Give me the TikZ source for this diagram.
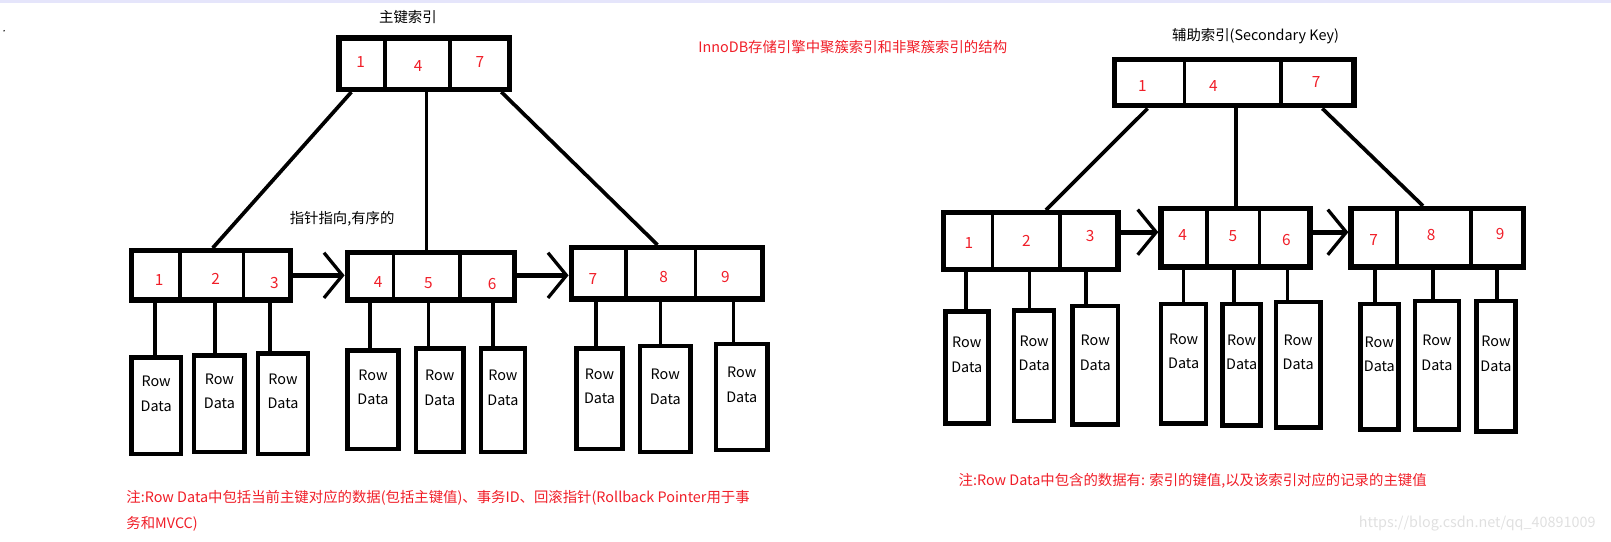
\documentclass[tikz,border=0pt]{standalone}
\usepackage{fontspec}
\setmainfont{Noto Sans CJK SC}
\usetikzlibrary{arrows.meta}
\definecolor{rd}{RGB}{240,30,40}
\newcommand{\bx}[5]{\node[box,minimum width={(#4-#2)*0.5pt},minimum height={(#5-#3)*0.5pt}] (#1) at ({(#2+#4)/2},{-(#3+#5)/2}) {};}
\newcommand{\rowd}[5]{\node[rowbox,minimum width={(#4-#2)*0.5pt},minimum height={(#5-#3)*0.5pt}] (#1) at ({(#2+#4)/2},{-(#3+#5)/2}) {};
\node[rowtxt] at ({(#2+#4)/2},{-(#3+#5)/2+12}) {Row\\[4pt]Data};}
\begin{document}
\begin{tikzpicture}[x=0.5pt,y=0.5pt,
  box/.style={draw,line width=2.6pt,inner sep=0pt},
  rowbox/.style={draw,line width=2.2pt,inner sep=0pt},
  rowtxt/.style={font=\fontsize{7}{8}\selectfont,align=center},
  num/.style={text=rd,font=\fontsize{7.5}{8}\selectfont},
  ln/.style={line width=1.8pt},
  arr/.style={line width=2.6pt,-{Straight Barb[length=9pt,width=22pt,line width=1.6pt]}},
  lbl/.style={font=\fontsize{7}{8}\selectfont}]
\useasboundingbox (0,0) rectangle (1568,-527.5);
\fill[black!15!blue!10] (0,0) rectangle (1568,-3);
\fill (4,-30) circle (0.8);
% left tree
\node[lbl] (t1) at (397,-17) {主键索引};
\node[lbl,text=rd] (t2) at (830,-46) {InnoDB存储引擎中聚簇索引和非聚簇索引的结构};
\bx{R}{330}{37}{496}{87}
\draw[ln] (375,-37)--(375,-87) (438,-37)--(438,-87);
\node[num] at (351,-60) {1};\node[num] at (407,-64) {4};\node[num] at (467,-60) {7};
\bx{A}{128}{244}{283}{292}
\bx{B}{338}{246}{501}{292}
\bx{C}{556}{241}{742}{291}
\draw[ln] (175,-244)--(175,-292) (237,-244)--(237,-292) (383,-246)--(383,-292) (448,-246)--(448,-292) (609,-241)--(609,-291) (677,-241)--(677,-291);
\node[num] at (155,-273){1};\node[num] at (210,-271){2};\node[num] at (267,-275){3};
\node[num] at (368,-274){4};\node[num] at (417,-276){5};\node[num] at (479,-276){6};
\node[num] at (577,-272){7};\node[num] at (646,-270){8};\node[num] at (706,-270){9};
\draw[ln] (R.south -| 342,0) -- (A.north -| 207,0);
\draw[ln] (R.south -| 415,0) -- (B.north -| 415,0);
\draw[ln] (R.south -| 488,0) -- (C.north -| 640,0);
\node[lbl] (t3) at (333,-213) {指针指向,有序的};
\draw[arr] (A.east |- 0,-268) -- (B.west |- 0,-268);
\draw[arr] (B.east |- 0,-268) -- (C.west |- 0,-268);
\rowd{a1}{128}{348}{176}{442}\rowd{a2}{189}{346}{238}{440}\rowd{a3}{251}{344}{300}{442}
\rowd{b1}{338}{341}{388}{437}\rowd{b2}{405}{339}{451}{440}\rowd{b3}{468}{339}{511}{440}
\rowd{c1}{561}{339}{606}{437}\rowd{c2}{623}{337}{672}{440}\rowd{c3}{697}{335}{747}{438}
\foreach \n/\x/\p in {a1/151/A,a2/209/A,a3/263/A,b1/360/B,b2/417/B,b3/480/B,c1/580/C,c2/643/C,c3/714/C}
  \draw[ln] (\p.south -| \x,0) -- (\n.north -| \x,0);
% right tree
\node[lbl] (t4) at (1222,-35) {辅助索引(Secondary Key)};
\bx{S}{1085}{58}{1318}{103}
\draw[ln] (1153,-58)--(1153,-103) (1247,-58)--(1247,-103);
\node[num] at (1112,-84){1};\node[num] at (1181,-84){4};\node[num] at (1281,-80){7};
\bx{D}{918}{207}{1088}{262}
\bx{E}{1130}{203}{1275}{260}
\bx{F}{1315}{203}{1483}{260}
\draw[ln] (966,-207)--(966,-262) (1032,-207)--(1032,-262) (1175,-203)--(1175,-260) (1226,-203)--(1226,-260) (1360,-203)--(1360,-260) (1432,-203)--(1432,-260);
\node[num] at (943,-237){1};\node[num] at (999,-234){2};\node[num] at (1061,-230){3};
\node[num] at (1151,-229){4};\node[num] at (1200,-230){5};\node[num] at (1252,-234){6};
\node[num] at (1337,-234){7};\node[num] at (1393,-229){8};\node[num] at (1460,-228){9};
\draw[ln] (S.south -| 1117,0) -- (D.north -| 1018,0);
\draw[ln] (S.south -| 1203,0) -- (E.north -| 1203,0);
\draw[ln] (S.south -| 1287,0) -- (F.north -| 1385,0);
\draw[arr] (D.east |- 0,-226) -- (E.west |- 0,-226);
\draw[arr] (E.east |- 0,-226) -- (F.west |- 0,-226);
\rowd{d1}{920}{303}{962}{412}\rowd{d2}{987}{302}{1026}{410}\rowd{d3}{1044}{298}{1088}{413}
\rowd{e1}{1130}{296}{1174}{412}\rowd{e2}{1190}{296}{1227}{414}\rowd{e3}{1242}{294}{1285}{416}
\rowd{f1}{1324}{296}{1361}{418}\rowd{f2}{1377}{293}{1420}{418}\rowd{f3}{1437}{293}{1475}{420}
\foreach \n/\x/\p in {d1/940/D,d2/1002/D,d3/1057/D,e1/1152/E,e2/1201/E,e3/1253/E,f1/1338/F,f2/1395/F,f3/1457/F}
  \draw[ln] (\p.south -| \x,0) -- (\n.north -| \x,0);
% notes
\node[lbl,text=rd,anchor=west] (n1) at (116,-485) {注:Row Data中包括当前主键对应的数据(包括主键值)、事务ID、回滚指针(Rollback Pointer用于事};
\node[lbl,text=rd,anchor=west] (n2) at (116,-510) {务和MVCC)};
\node[lbl,text=rd,anchor=west] (n3) at (926,-468) {注:Row Data中包含的数据有: 索引的键值,以及该索引对应的记录的主键值};
\node[lbl,text=black!12,anchor=east] (w) at (1560,-510) {https://blog.csdn.net/qq\_40891009};
\end{tikzpicture}
\end{document}
